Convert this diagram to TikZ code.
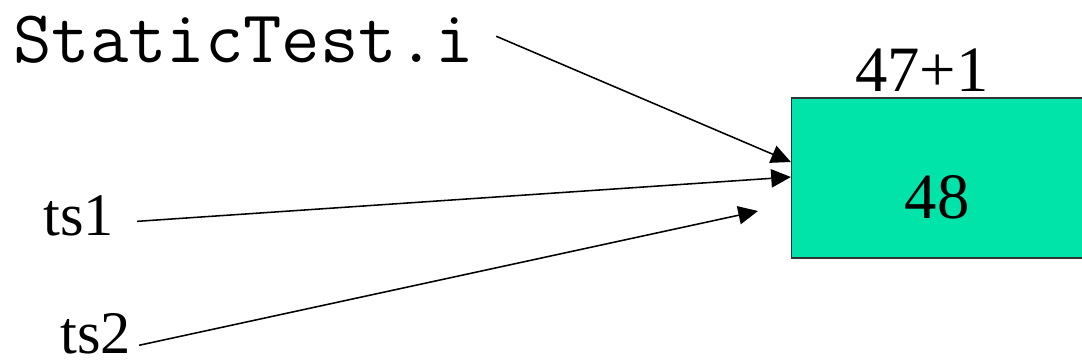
\documentclass[tikz,border=0pt]{standalone}
\usepackage{fontspec}
\setmainfont{Liberation Serif}
\usetikzlibrary{positioning,calc,arrows.meta}
\definecolor{cellgreen}{HTML}{00E4AA}

\begin{document}
\begin{tikzpicture}[x=0.025cm, y=-0.025cm,
    cell/.style={draw=black!80, line width=0.8pt, fill=cellgreen, minimum width=7.3cm, minimum height=4cm},
    lbl/.style={inner sep=0pt, font=\fontsize{43pt}{48pt}\selectfont},
    val/.style={inner sep=0pt, font=\fontsize{46pt}{52pt}\selectfont},
    arrow/.style={-{Triangle[length=14pt, width=13pt]}, line width=1.1pt}
  ]
    \useasboundingbox (0,0) rectangle (1082,363);

    \node[lbl, anchor=base west, font=\ttfamily\fontsize{53pt}{58pt}\selectfont] (static) at (13,62) {StaticTest.i};
    \node[lbl, anchor=base west] (ts1) at (43,235) {ts1};
    \node[lbl, anchor=base west] (ts2) at (60,353) {ts2};

    \node[cell] (obj) at (937.5,178) {};
    \node[val, anchor=base] (sum) at (922,91) {47+1};
    \node[val, anchor=base] (num) at (937,218) {48};
    \coordinate (short) at (758,211);

    \draw[arrow] ($(static.east)+(22,-3)$) -- ($(obj.west)+(0,-16)$);
    \draw[arrow] ($(ts1.east)+(23,6)$) -- ($(obj.west)+(0,-1)$);
    \draw[arrow] ($(ts2.east)+(8,12)$) -- (short);

\end{tikzpicture}
\end{document}
